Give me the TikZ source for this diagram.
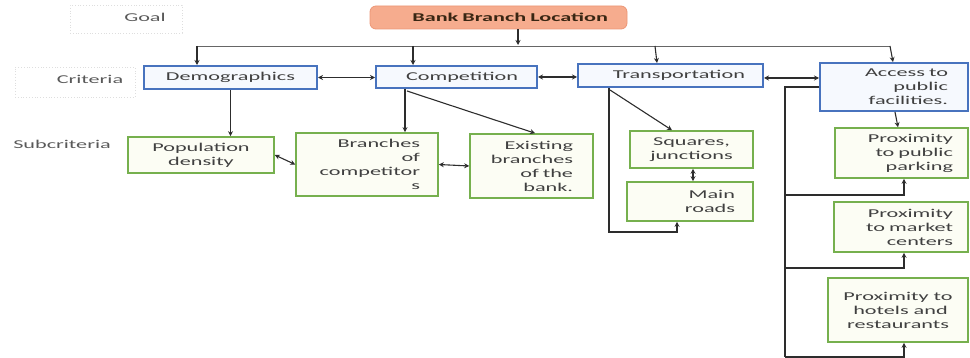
\documentclass[tikz,border=0pt]{standalone}
\usepackage{fontspec}
\setmainfont{Carlito}[FakeStretch=1.85]
\usetikzlibrary{arrows.meta,calc}
\definecolor{blueC}{RGB}{72,115,190}
\definecolor{blueF}{RGB}{246,249,254}
\definecolor{greenC}{RGB}{118,176,78}
\definecolor{greenF}{RGB}{252,253,244}
\definecolor{bankF}{RGB}{246,172,142}
\definecolor{bankD}{RGB}{236,150,118}
\definecolor{txtC}{RGB}{64,64,64}
\definecolor{lineC}{RGB}{45,45,45}
\definecolor{faintC}{RGB}{222,222,222}
\begin{document}
\begin{tikzpicture}[x=1pt,y=-1pt,
  every node/.style={font=\fontsize{12}{14}\selectfont, text=txtC, inner sep=0pt},
  bluebox/.style={draw=blueC, line width=2pt, fill=blueF},
  greenbox/.style={draw=greenC, line width=1.6pt, fill=greenF},
  bankbox/.style={draw=bankD, line width=0.8pt, fill=bankF, rounded corners=6pt},
  faintbox/.style={draw=faintC, dotted, line width=0.8pt},
  lbl/.style={text=black!65},
  rt/.style={align=right, text width=#1},
  conn/.style={draw=lineC, line width=1.1pt},
  arr/.style={conn, -{Stealth[length=5pt,width=5pt]}},
  darr/.style={conn, {Stealth[length=5pt,width=5pt]}-{Stealth[length=5pt,width=5pt]}}
]
\useasboundingbox (0,0) rectangle (970,358);

% labels
\node[faintbox, minimum width=112pt, minimum height=28pt] (goalframe) at (126,19) {};
\node[faintbox, minimum width=120pt, minimum height=30pt] (critframe) at (75,82) {};
\node[lbl] (goal) at (145,17) {Goal};
\node[lbl] (crit) at (90,79) {Criteria};
\node[lbl] (subc) at (62,144) {Subcriteria};

% goal
\node[bankbox, minimum width=257pt, minimum height=23pt, rt=219pt, text=black!70!brown] (bank) at (498.5,17.5) {\bfseries Bank Branch Location};

% criteria
\node[bluebox, minimum width=173pt, minimum height=23pt] (demo) at (230.5,77.5) {Demographics};
\node[bluebox, minimum width=161pt, minimum height=22pt, rt=123pt] (comp) at (456.5,77) {Competition};
\node[bluebox, minimum width=185pt, minimum height=23pt, rt=149pt] (trans) at (670.5,75.5) {Transportation};
\node[bluebox, minimum width=148pt, minimum height=48pt, rt=108pt] (access) at (894,87) {Access to\\public\\facilities.};

% subcriteria
\node[greenbox, minimum width=146pt, minimum height=36pt, align=center] (pop) at (201,155) {Population\\density};
\node[greenbox, minimum width=142pt, minimum height=63pt, rt=106pt] (branches) at (367,164.5) {Branches\\of\\competitor\\s};
\node[greenbox, minimum width=123pt, minimum height=64pt, rt=83pt] (exist) at (531.5,166) {Existing\\branches\\of the\\bank.};
\node[greenbox, minimum width=123pt, minimum height=37pt, align=center] (squares) at (691.5,149.5) {Squares,\\junctions};
\node[greenbox, minimum width=126pt, minimum height=39pt, rt=90pt] (mainr) at (690,201.5) {Main\\roads};
\node[greenbox, minimum width=133pt, minimum height=50pt, rt=103pt] (parking) at (901.5,153) {Proximity\\to public\\parking};
\node[greenbox, minimum width=134pt, minimum height=50pt, rt=104pt] (market) at (901,227) {Proximity\\to market\\centers};
\node[greenbox, minimum width=140pt, minimum height=64pt, align=center] (hotels) at (898,310) {Proximity to\\\ hotels and\\restaurants};

% bus from goal
\coordinate (busL) at (197,46);
\coordinate (busR) at (890,46);
\draw[conn, line width=0.8pt, draw=black!60] (busL) -- (busR);
\draw[arr] (bank.south -| 518,0) -- (518,45);
\draw[arr] (busL) -- (demo.north -| busL);
\draw[arr] (413,46) -- (comp.north -| 413,0);
\draw[arr] (655,46) -- (trans.north -| 657,0);
\draw[arr] (busR) -- (access.north -| 893,0);

% criteria links
\draw[darr] (demo.east) -- (comp.west |- demo.east);
\draw[darr] (comp.east) -- (trans.west |- comp.east);
\draw[darr] ($(trans.east)+(0,2.5)$) -- ($(access.west |- trans.east)+(0,2.5)$);

% demographics
\draw[arr] (demo.south) -- (pop.north -| demo.south);

% competition
\coordinate (c1) at (comp.south west -| 405,0);
\draw[arr] (c1) -- (branches.north -| c1);
\draw[arr] ($(c1)+(2,2)$) -- (exist.north -| 535,0);
\draw[darr] (pop.east) -- (branches.west);
\draw[darr] (branches.east) -- (exist.west);

% transportation
\coordinate (t1) at (trans.south west -| 609,0);
\coordinate (t2) at (609,232);
\draw[arr] ($(t1)+(1,2)$) -- (squares.north -| 672,0);
\draw[arr] (t1) -- (t2) -| (mainr.south -| 677,0);
\draw[darr] (squares.south -| 693,0) -- (mainr.north -| 693,0);

% access
\coordinate (a1) at (access.west -| 785,0);
\coordinate (a2) at (785,357);
\draw[arr] (access.south -| 895,0) -- (parking.north -| 898,0);
\draw[conn] (access.west) -- (a1) -- (a2);
\draw[arr] (785,195) -| (parking.south -| 904,0);
\draw[arr] (785,268) -| (market.south -| 904,0);
\draw[arr] (a2) -| (hotels.south -| 904,0);
\end{tikzpicture}
\end{document}
